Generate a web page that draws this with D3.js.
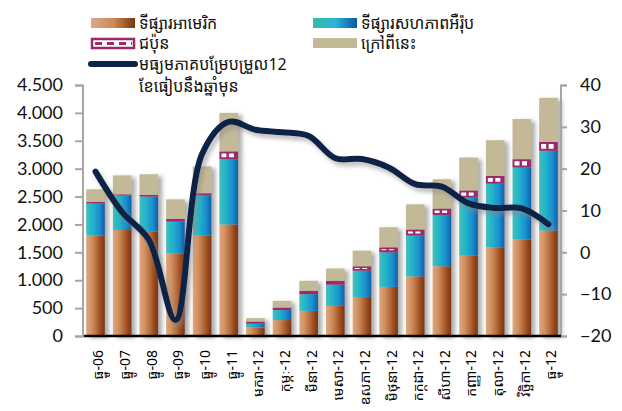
<!DOCTYPE html>
<html><head><meta charset="utf-8">
<script src="https://cdn.jsdelivr.net/npm/d3@7/dist/d3.min.js"></script>
<style>
body{margin:0;background:#fff;}
svg{display:block;}
.kh{font-family:"Khmer OS","Khmer OS System","Noto Sans Khmer","Noto Serif Khmer","Khmer","Leelawadee UI",sans-serif;}
.num{font-family:Lato,"Open Sans",sans-serif;}
</style></head>
<body>
<svg id="c" width="622" height="411"></svg>
<script>
const categories = ["ធ្នូ-06","ធ្នូ-07","ធ្នូ-08","ធ្នូ-09","ធ្នូ-10","ធ្នូ-11","មករា-12","កុម្ភៈ-12","មីនា-12","មេសា-12","ឧសភា-12","មិថុនា-12","កក្កដា-12","សីហា-12","កញ្ញា-12","តុលា-12","វិច្ឆិកា-12","ធ្នូ-12"];
const us     = [1800,1900,1870,1480,1800,2000,150,285,450,540,700,880,1070,1250,1440,1590,1730,1890];
const eu     = [575,620,630,570,720,1170,70,180,300,380,470,620,730,920,1040,1140,1290,1430];
const japan  = [30,20,30,50,40,140,40,45,60,70,80,90,110,115,130,140,150,160];
const others = [225,340,370,350,480,690,60,120,180,220,280,360,450,525,590,640,720,790];
const growth = [19.3,9.6,3.0,-16.2,23.5,31.2,29.3,28.7,27.8,22.5,22.3,20.3,16.3,15.7,11.7,10.6,10.5,6.7];
const leftTicks = [0,500,1000,1500,2000,2500,3000,3500,4000,4500];
const rightTicks = [-20,-10,0,10,20,30,40];
const seriesNames = ["ទីផ្សារអាមេរិក","ទីផ្សារសហភាពអឺរ៉ុប","ជប៉ុន","ក្រៅពីនេះ"];
const lineName = ["មធ្យមភាគបម្រែបម្រួល12","ខែធៀបនឹងឆ្នាំមុន"];

const svg = d3.select("#c");
const defs = svg.append("defs");
function hgrad(id, stops){
  const g = defs.append("linearGradient").attr("id",id).attr("x1","0").attr("x2","1").attr("y1","0").attr("y2","0");
  stops.forEach(s=>g.append("stop").attr("offset",s[0]).attr("stop-color",s[1]));
}
hgrad("gUS",[[0,"#dfa67c"],[0.3,"#d08f60"],[0.55,"#b86d3c"],[0.8,"#95491c"],[1,"#7a3510"]]);
hgrad("gEU",[[0,"#40c0bc"],[0.35,"#22b3ca"],[0.7,"#1c8fcf"],[1,"#0d5fa8"]]);
hgrad("gUSl",[[0,"#dba98a"],[0.5,"#cf8a55"],[1,"#7a3510"]]);
hgrad("gEUl",[[0,"#36bba0"],[0.5,"#2bb5d6"],[1,"#0a58a4"]]);
const sh = defs.append("filter").attr("id","sh").attr("x","-30%").attr("y","-10%").attr("width","170%").attr("height","130%");
sh.append("feDropShadow").attr("dx",4).attr("dy",2).attr("stdDeviation",2.2).attr("flood-color","#777").attr("flood-opacity",0.6);
const shl = defs.append("filter").attr("id","shl").attr("x","-10%").attr("y","-20%").attr("width","120%").attr("height","150%");
shl.append("feDropShadow").attr("dx",3).attr("dy",4).attr("stdDeviation",2).attr("flood-color","#888").attr("flood-opacity",0.55);

const x = d3.scaleBand().domain(categories).range([83,561]).paddingInner(0.3).paddingOuter(0.12);
const yL = d3.scaleLinear().domain([0,4500]).range([336,85]);
const yR = d3.scaleLinear().domain([-20,40]).range([336,85]);

const rows = categories.map((c,i)=>({c, us:us[i], eu:eu[i], japan:japan[i], others:others[i]}));
const stack = d3.stack().keys(["us","eu","japan","others"])(rows);
const fills = ["url(#gUS)","url(#gEU)","#9b2a6a","#c4b996"];

const barsG = svg.append("g").attr("filter","url(#sh)");
stack.forEach((layer,k)=>{
  barsG.append("g").selectAll("rect").data(layer).join("rect")
    .attr("x",d=>x(d.data.c)).attr("width",x.bandwidth())
    .attr("y",d=>yL(d[1])).attr("height",d=>yL(d[0])-yL(d[1]))
    .attr("fill",fills[k]);
});
// white dashes in Japan layer
svg.append("g").selectAll("line").data(stack[2].filter(d=>yL(d[0])-yL(d[1])>4)).join("line")
  .attr("x1",d=>x(d.data.c)+2).attr("x2",d=>x(d.data.c)+x.bandwidth()-2)
  .attr("y1",d=>(yL(d[0])+yL(d[1]))/2).attr("y2",d=>(yL(d[0])+yL(d[1]))/2)
  .attr("stroke","#fff").attr("stroke-width",d=>Math.max(1,(yL(d[0])-yL(d[1]))-4))
  .attr("stroke-dasharray","5,2.5");

// axes
const fmt = d3.formatLocale({decimal:",",thousands:".",grouping:[3],currency:["",""]}).format(",");
const axL = svg.append("g").attr("transform","translate(83,0)")
  .call(d3.axisLeft(yL).tickValues(leftTicks).tickFormat(fmt).tickSize(8).tickPadding(12));
const axR = svg.append("g").attr("transform","translate(561,0)")
  .call(d3.axisRight(yR).tickValues(rightTicks).tickSize(6).tickPadding(13));
[axL,axR].forEach(a=>{
  a.select(".domain").attr("stroke","#a6a6a6").attr("stroke-width",2);
  a.selectAll(".tick line").attr("stroke","#a6a6a6").attr("stroke-width",2);
  a.selectAll("text").attr("class","num").attr("font-size",18).attr("fill","#111");
});
axL.select(".domain").attr("d","M-8,85.5H0V336.5H-8");
axR.select(".domain").attr("d","M6,85.5H0V336.5H6");
const axB = svg.append("g").attr("transform","translate(0,336)")
  .call(d3.axisBottom(x).tickSize(0).tickPadding(0));
axB.select(".domain").attr("stroke","#000").attr("stroke-width",2.5).attr("d","M84,0H561");
axB.selectAll("text").attr("class","kh").attr("font-size",14).attr("fill","#000")
  .attr("text-anchor","end").attr("dy","0.35em")
  .attr("transform","translate(3,14) rotate(-90)").attr("x",0).attr("y",0);

// line
const line = d3.line().x((d,i)=>x(categories[i])+x.bandwidth()/2).y(d=>yR(d)).curve(d3.curveCatmullRom.alpha(0.5));
svg.append("path").datum(growth).attr("d",line).attr("fill","none")
  .attr("stroke","#0b2447").attr("stroke-width",6).attr("stroke-linecap","round").attr("filter","url(#shl)");

// legend
const lg = svg.append("g");
const sw = [
  {x:91,y:18,fill:"url(#gUSl)",t:seriesNames[0]},
  {x:313,y:18,fill:"url(#gEUl)",t:seriesNames[1]},
  {x:91,y:38,fill:"jp",t:seriesNames[2]},
  {x:313,y:38,fill:"#c4b996",t:seriesNames[3]}
];
sw.forEach(s=>{
  if(s.fill==="jp"){
    lg.append("rect").attr("x",s.x+1).attr("y",s.y+1).attr("width",42).attr("height",9).attr("fill","#fff").attr("stroke","#9b2a6a").attr("stroke-width",2.5);
    lg.append("line").attr("x1",s.x+4).attr("x2",s.x+41).attr("y1",s.y+5.5).attr("y2",s.y+5.5).attr("stroke","#9b2a6a").attr("stroke-width",3).attr("stroke-dasharray","7,5");
  } else {
    lg.append("rect").attr("x",s.x).attr("y",s.y).attr("width",44).attr("height",10).attr("fill",s.fill);
  }
  lg.append("text").attr("class","kh").attr("x",s.x+48).attr("y",s.y+5).attr("dy","0.35em").attr("font-size",16).attr("fill","#111").text(s.t);
});
lg.append("line").attr("x1",91).attr("x2",135).attr("y1",64).attr("y2",64).attr("stroke","#0b2447").attr("stroke-width",6).attr("stroke-linecap","round");
lg.append("text").attr("class","kh").attr("x",139).attr("y",64).attr("dy","0.35em").attr("font-size",16).attr("fill","#111").text(lineName[0]);
lg.append("text").attr("class","kh").attr("x",139).attr("y",86).attr("dy","0.35em").attr("font-size",16).attr("fill","#111").text(lineName[1]);
</script>
</body></html>
